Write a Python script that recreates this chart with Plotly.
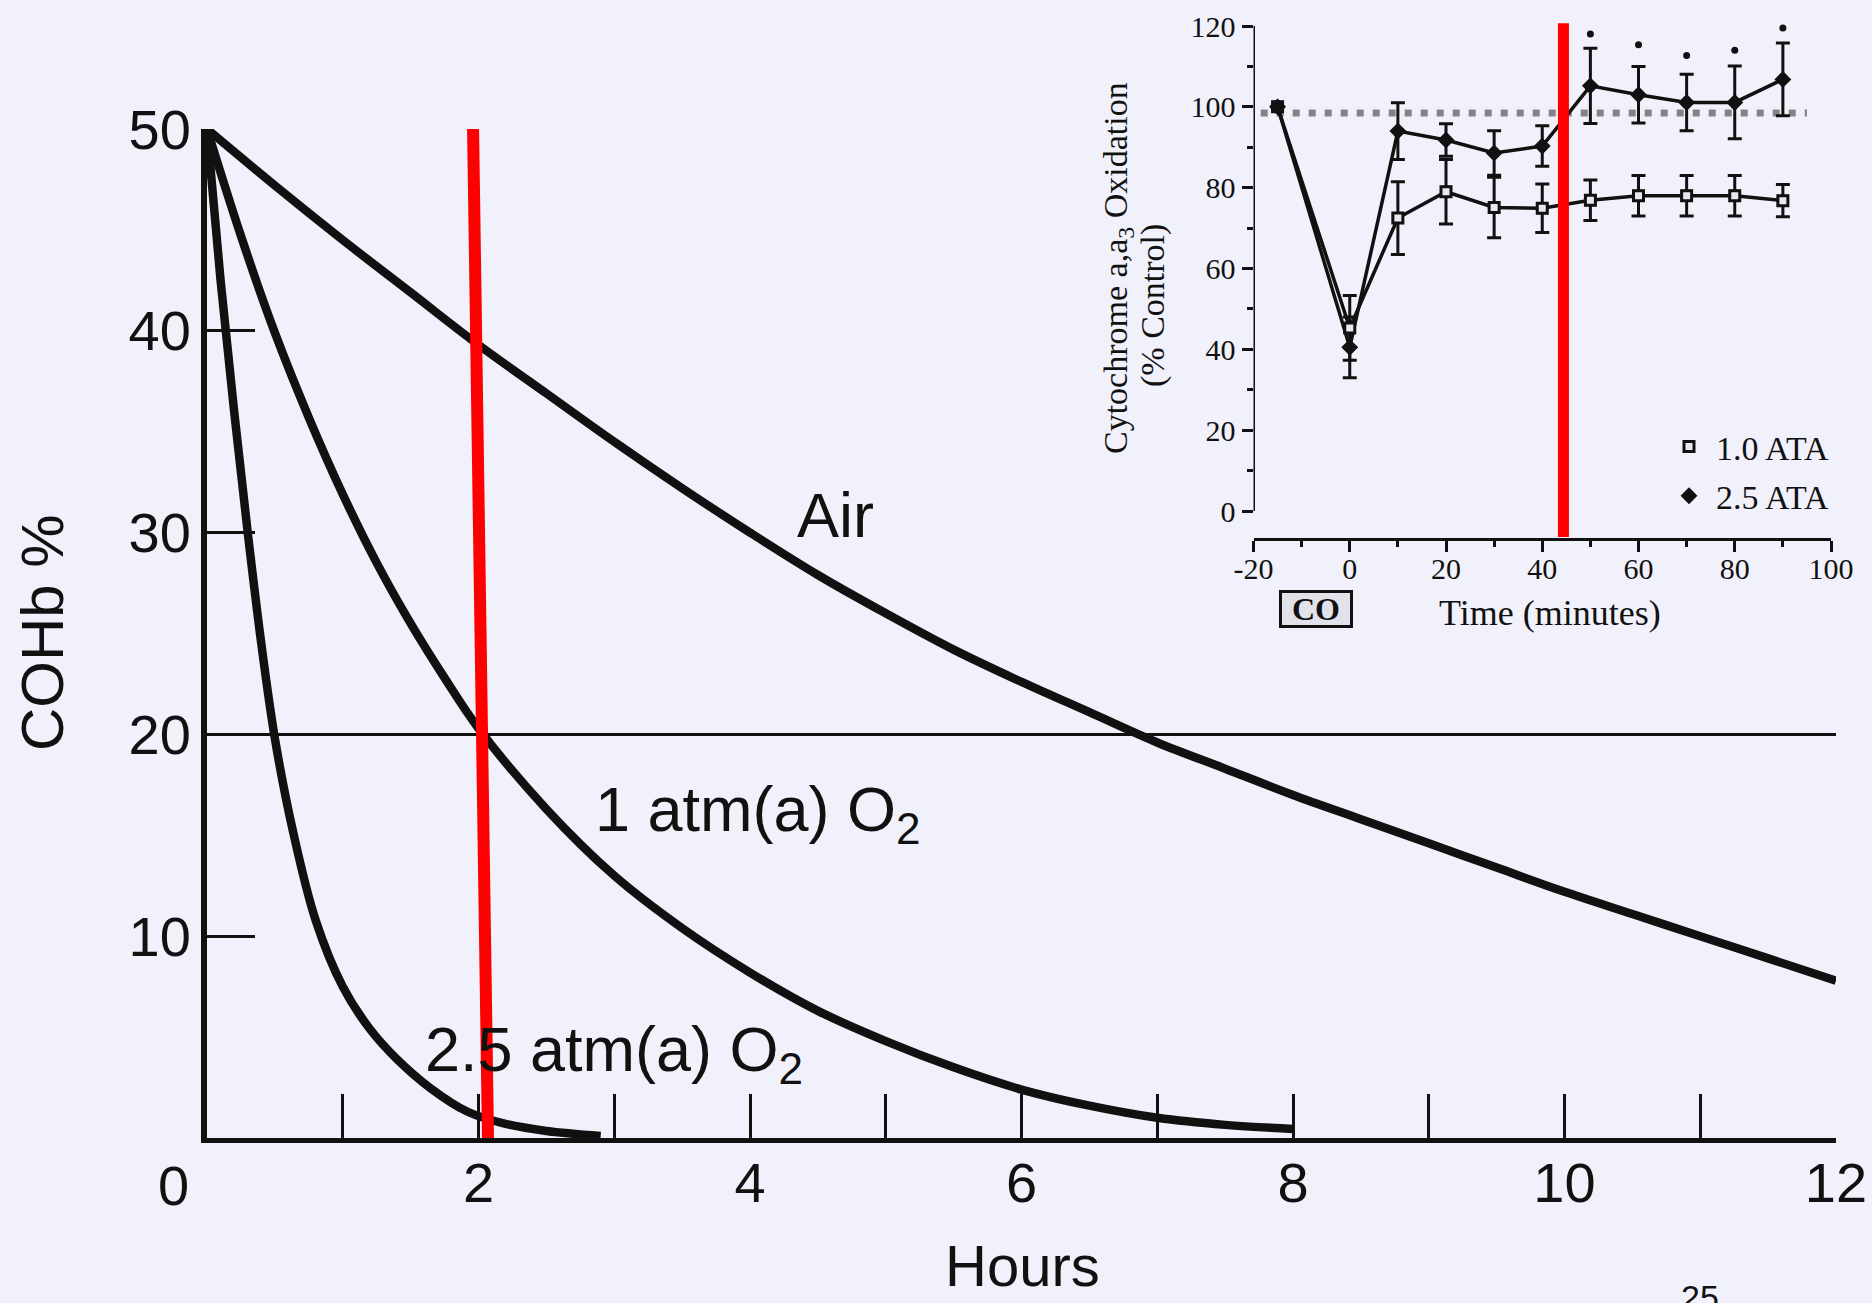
import plotly.graph_objects as go

W, H = 1872, 1303
BG = "#F1F1FC"
INK = "#111111"
SANS = "Liberation Sans, Arial, sans-serif"
SERIF = "Liberation Serif, Times New Roman, serif"

# ---------------- main chart data (COHb % vs hours) ----------------
hour_tickvals = [1, 2, 3, 4, 5, 6, 7, 8, 9, 10, 11, 12]
hour_ticktext = ["", "2", "", "4", "", "6", "", "8", "", "10", "", "12"]
cohb_tickvals = [10, 20, 30, 40, 50]

air_h = [0, 0.5, 1, 1.5, 2, 2.5, 3, 3.5, 4, 4.5, 5, 5.5, 6, 6.5, 7, 7.5, 8, 8.5, 9, 9.5,
         10, 10.5, 11, 11.5, 12]
air_v = [50, 47.2, 44.5, 41.9, 39.3, 36.9, 34.5, 32.2, 30.0, 27.9, 26.0, 24.2, 22.6, 21.1,
         19.6, 18.3, 17.0, 15.8, 14.6, 13.4, 12.2, 11.1, 10.0, 8.9, 7.8]

o2_1_h = [0, 0.25, 0.5, 0.75, 1, 1.25, 1.5, 1.75, 2, 2.5, 3, 3.5, 4, 4.5, 5, 5.5, 6, 6.5,
          7, 7.5, 8]
o2_1_v = [50, 44.7, 39.9, 35.7, 31.9, 28.5, 25.5, 22.8, 20.3, 16.3, 13.0, 10.4, 8.2, 6.3,
          4.8, 3.5, 2.4, 1.6, 1.0, 0.65, 0.45]

o2_25_h = [0, 0.1, 0.2, 0.3, 0.4, 0.5, 0.63, 0.8, 1.0, 1.2, 1.4, 1.64, 1.92, 2.2, 2.5, 2.9]
o2_25_v = [50, 42.5, 36.0, 30.0, 24.5, 19.8, 15.3, 10.8, 7.5, 5.4, 3.9, 2.5, 1.3, 0.7, 0.35, 0.1]

level20_h = [0, 12]
level20_v = [20, 20]

red_main_h = [1.96, 2.07]
red_main_v = [50, 0]

# ---------------- inset data (cytochrome oxidation) ----------------
minute_tickvals = [-20, 0, 20, 40, 60, 80, 100]
minute_ticktext = ["-20", "0", "20", "40", "60", "80", "100"]
t_min = [-15, 0, 10, 20, 30, 40, 50, 60, 70, 80, 90]
ata10 = [100, 45.3, 72.5, 79.0, 75.1, 74.9, 76.9, 78.0, 78.0, 78.0, 76.8]
ata10_err = [0, 8, 9, 8, 7.5, 6, 5, 5, 5, 5, 4]
ata25 = [100, 40.5, 94.0, 91.8, 88.6, 90.3, 105.2, 103.0, 101.1, 101.1, 106.8]
ata25_err = [0, 7.5, 7, 4, 5.5, 5, 9.3, 7, 7, 9, 9]
sig_t = [50, 60, 70, 80, 90]
sig_v = [118.0, 115.4, 112.7, 114.0, 119.5]
control_t = [-18.5, 95]
control_v = [98.5, 98.5]
red_inset_t = [44.4, 44.4]
red_inset_v = [-6.4, 120.7]


def px(x):
    return x / W


def py(y):
    return 1 - y / H


fig = go.Figure()

# main curves
for hx, vy in [(air_h, air_v), (o2_1_h, o2_1_v), (o2_25_h, o2_25_v)]:
    fig.add_trace(go.Scatter(x=hx, y=vy, mode="lines", showlegend=False,
                             line=dict(color=INK, width=8.5, shape="spline", smoothing=1.0),
                             xaxis="x", yaxis="y", hoverinfo="skip"))
fig.add_trace(go.Scatter(x=level20_h, y=level20_v, mode="lines", showlegend=False,
                         line=dict(color=INK, width=3), xaxis="x", yaxis="y"))
fig.add_trace(go.Scatter(x=red_main_h, y=red_main_v, mode="lines", showlegend=False,
                         line=dict(color="#FF0000", width=12), xaxis="x", yaxis="y"))

# inset
fig.add_trace(go.Scatter(x=control_t, y=control_v, mode="lines", showlegend=False,
                         line=dict(color="#838383", width=7, dash="7px,9px"),
                         xaxis="x2", yaxis="y2"))
fig.add_trace(go.Scatter(x=t_min, y=ata10, mode="lines+markers", showlegend=False,
                         line=dict(color=INK, width=3.5),
                         marker=dict(symbol="square", size=9, color="#e8e8f0",
                                     line=dict(color=INK, width=3)),
                         error_y=dict(type="data", array=ata10_err, color=INK, thickness=3, width=7),
                         xaxis="x2", yaxis="y2"))
fig.add_trace(go.Scatter(x=t_min, y=ata25, mode="lines+markers", showlegend=False,
                         line=dict(color=INK, width=3.5),
                         marker=dict(symbol="diamond", size=12, color=INK),
                         error_y=dict(type="data", array=ata25_err, color=INK, thickness=3, width=7),
                         xaxis="x2", yaxis="y2"))
fig.add_trace(go.Scatter(x=sig_t, y=sig_v, mode="markers", showlegend=False,
                         marker=dict(symbol="circle", size=7, color=INK),
                         xaxis="x2", yaxis="y2", cliponaxis=False))
# legend entries
fig.add_trace(go.Scatter(x=t_min, y=ata10, mode="markers", name="1.0 ATA", legendgroup="a",
                         marker=dict(symbol="square", size=10, color="#e8e8f0",
                                     line=dict(color=INK, width=3)),
                         xaxis="x2", yaxis="y2"))
fig.add_trace(go.Scatter(x=t_min, y=ata25, mode="markers", name="2.5 ATA", legendgroup="b",
                         marker=dict(symbol="diamond", size=13, color=INK),
                         xaxis="x2", yaxis="y2"))
fig.add_trace(go.Scatter(x=red_inset_t, y=red_inset_v, mode="lines", showlegend=False,
                         line=dict(color="#FF0000", width=11), xaxis="x2", yaxis="y2"))

# inset y-axis line (0..120 only)
fig.add_shape(type="line", xref="x2", yref="y2", x0=-20, x1=-20, y0=0, y1=120,
              line=dict(color=INK, width=3))


def ann(text, x, y, size, family=SANS, xref="paper", yref="paper", **kw):
    d = dict(text=text, x=x, y=y, xref=xref, yref=yref, showarrow=False,
             xanchor="center", yanchor="middle",
             font=dict(family=family, size=size, color=INK))
    d.update(kw)
    return d


annotations = [
    ann("0", 0, 0, 56, xref="x", yref="y", xshift=-34, yshift=-47),
    ann("COHb %", px(42), py(633), 60, textangle=-90),
    ann("Hours", px(1023), py(1265), 58),
    ann("Air", 4.63, 30.85, 63, xref="x", yref="y"),
    ann("1 atm(a) O<sub>2</sub>", 4.06, 16.1, 63, xref="x", yref="y"),
    ann("2.5 atm(a) O<sub>2</sub>", 3.0, 4.2, 63, xref="x", yref="y"),
    ann("25", px(1700), py(1276), 34, yanchor="top"),
    ann("Cytochrome a,a<sub>3</sub> Oxidation", px(1118), py(268), 34, family=SERIF,
        textangle=-90),
    ann("(% Control)", px(1153), py(306), 34, family=SERIF, textangle=-90),
    ann("Time (minutes)", px(1550), py(613), 36, family=SERIF),
    ann("<b>CO</b>", px(1316), py(609), 32, family=SERIF, bordercolor=INK, borderwidth=3,
        bgcolor="#e2e2ea", borderpad=1, width=66, height=30),
]

fig.update_layout(
    width=W, height=H, autosize=False,
    margin=dict(l=0, r=0, t=0, b=0, pad=0, autoexpand=False),
    paper_bgcolor=BG, plot_bgcolor="rgba(0,0,0,0)",
    showlegend=True,
    legend=dict(x=px(1662), y=py(418), xanchor="left", yanchor="top",
                bgcolor="rgba(0,0,0,0)", font=dict(family=SERIF, size=34, color=INK),
                tracegroupgap=2, itemwidth=44, itemclick=False),
    xaxis=dict(domain=[px(207), px(1836)], range=[0, 12], anchor="y",
               tickmode="array", tickvals=hour_tickvals, ticktext=hour_ticktext,
               ticks="inside", ticklen=44, tickwidth=3, tickcolor=INK,
               tickfont=dict(family=SANS, size=56, color=INK), ticklabelstandoff=-8,
               showline=True, linewidth=5, linecolor=INK,
               showgrid=False, zeroline=False),
    yaxis=dict(domain=[py(1138), py(129)], range=[0, 50], anchor="x",
               tickmode="array", tickvals=cohb_tickvals,
               ticks="inside", ticklen=48, tickwidth=3, tickcolor=INK,
               tickfont=dict(family=SANS, size=56, color=INK), ticklabelstandoff=-1,
               showline=True, linewidth=6, linecolor=INK,
               showgrid=False, zeroline=False),
    xaxis2=dict(domain=[px(1253.5), px(1831)], range=[-20, 100], anchor="y2",
                tickmode="array", tickvals=minute_tickvals, ticktext=minute_ticktext,
                ticks="outside", ticklen=11, tickwidth=3, tickcolor=INK,
                minor=dict(tickmode="linear", tick0=0, dtick=10, ticks="outside", ticklen=6,
                           tickwidth=2.5, tickcolor=INK),
                tickfont=dict(family=SERIF, size=30, color=INK), ticklabelstandoff=-9,
                showline=True, linewidth=3, linecolor=INK,
                showgrid=False, zeroline=False),
    yaxis2=dict(domain=[py(537.7), py(22)], range=[-6.6, 121], anchor="x2",
                tickmode="linear", tick0=0, dtick=20,
                ticks="outside", ticklen=11, tickwidth=3, tickcolor=INK,
                minor=dict(dtick=10, ticks="outside", ticklen=6, tickwidth=2.5, tickcolor=INK),
                tickfont=dict(family=SERIF, size=30, color=INK),
                showline=False, showgrid=False, zeroline=False),
    annotations=annotations,
)

fig.write_html("out.html")
